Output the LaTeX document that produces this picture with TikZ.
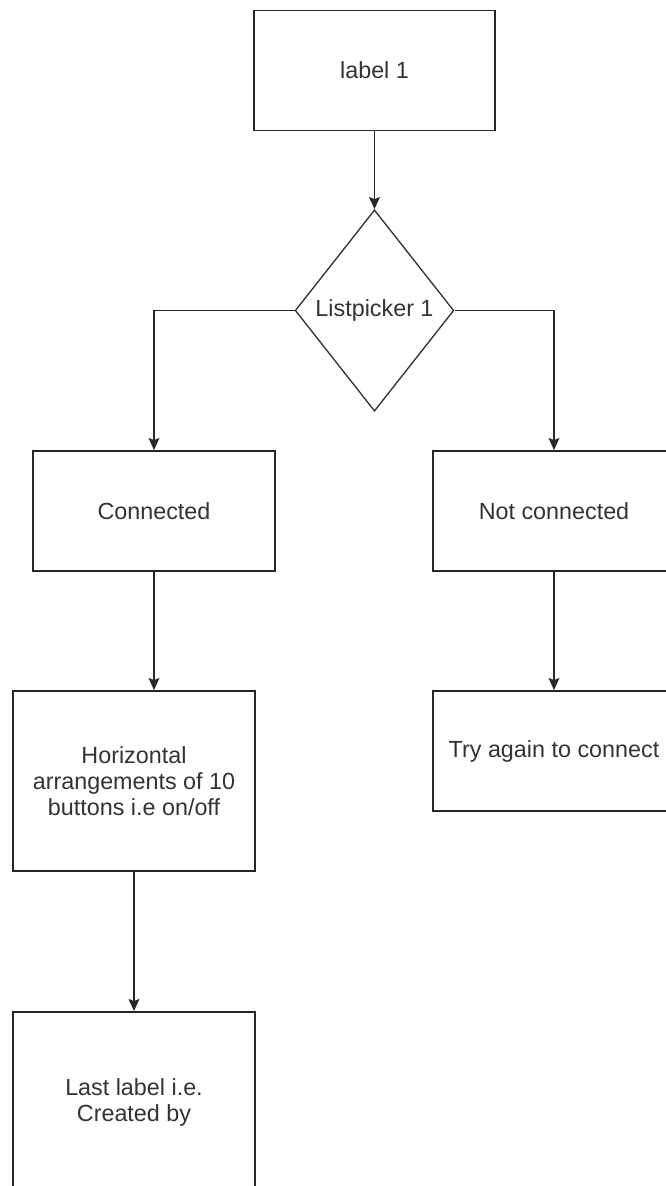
\documentclass[tikz,border=0pt]{standalone}
\usepackage{fontspec}
\setmainfont{Liberation Sans}
\usetikzlibrary{arrows.meta,shapes.geometric}

\tikzset{
	box/.style={draw=black!85, line width=1.4pt, minimum width=181pt, minimum height=90pt, inner sep=0pt, align=center, text=black!80, font=\fontsize{17.5pt}{19.5pt}\selectfont},
	decision/.style={draw=black!80, line width=1pt, diamond, minimum width=119pt, minimum height=151pt, inner sep=0pt},
	flow/.style={line width=1.4pt, draw=black!85, -{Stealth[length=9pt,width=8pt,inset=1.5pt]}}
}

\begin{document}
\begin{tikzpicture}[x=0.75pt, y=-0.75pt]
			%%%%% START %%%%%
			
			\fill[white] (0, 0) rectangle (666, 1186);
			\useasboundingbox (0, 0) rectangle (666, 1186);
			\clip (0, 0) rectangle (666, 1186);
			
			\node[box] (lab1) at (374.5, 70.5) {label 1};
			
			\node[decision] (pick) at (374.5, 310.5) {};
			\node[text=black!80, font=\fontsize{17.5pt}{19.5pt}\selectfont] (picktxt) at (pick) {Listpicker 1};
			
			\node[box] (conn) at (154, 511) {Connected};
			\node[box] (notconn) at (554, 511) {Not connected};
			
			\node[box, minimum height=135pt] (horiz) at (134, 781) {Horizontal\\arrangements of 10\\buttons i.e on/off};
			\node[box] (retry) at (554, 751) {Try again to connect};
			
			\node[box, minimum height=135pt] (last) at (134, 1102) {Last label i.e.\\Created by};
			
			\draw[flow] (lab1) -- (pick);
			\draw[flow] (pick.west) -| (conn);
			\draw[flow] (pick.east) -| (notconn);
			\draw[flow] (conn) -- (conn.south |- horiz.north);
			\draw[flow] (notconn) -- (retry);
			\draw[flow] (horiz) -- (last);
			
			%%%%% END %%%%%
\end{tikzpicture}
\end{document}
